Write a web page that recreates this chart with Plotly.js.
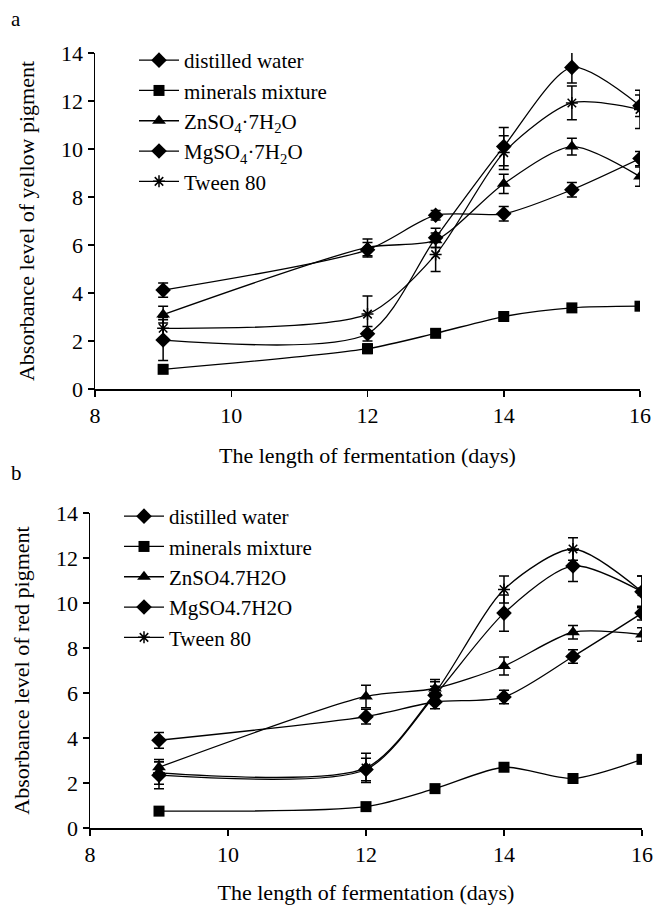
<!DOCTYPE html>
<html>
<head>
<meta charset="utf-8">
<script src="https://cdn.plot.ly/plotly-3.0.1.min.js"></script>
<style>
  html, body { margin: 0; padding: 0; background: #ffffff; }
  #chart { width: 653px; height: 905px; }
</style>
</head>
<body>
<div id="chart"></div>
<script>
// ---- data ----
const days = [9, 12, 13, 14, 15, 16];
const seriesNamesA = ["distilled water", "minerals mixture", "ZnSO<sub>4</sub>·7H<sub>2</sub>O", "MgSO<sub>4</sub>·7H<sub>2</sub>O", "Tween 80"];
const seriesNamesB = ["distilled water", "minerals mixture", "ZnSO4.7H2O", "MgSO4.7H2O", "Tween 80"];

// panel a: yellow pigment
const yellowDistilled = [2.04, 2.3, 6.3, 10.1, 13.4, 11.8];
const yellowDistilledErr = [0.85, 0.3, 0.4, 0.8, 0.65, 0.45];
const yellowMinerals = [0.82, 1.68, 2.32, 3.02, 3.38, 3.45];
const yellowMineralsErr = [0.15, 0.2, 0.15, 0.12, 0.12, 0.15];
const yellowZn = [3.1, 5.9, 6.2, 8.55, 10.1, 8.85];
const yellowZnErr = [0.35, 0.35, 0.3, 0.4, 0.35, 0.4];
const yellowMg = [4.12, 5.8, 7.24, 7.3, 8.3, 9.6];
const yellowMgErr = [0.3, 0.3, 0.2, 0.3, 0.3, 0.3];
const yellowTween = [2.53, 3.12, 5.6, 9.85, 11.92, 11.65];
const yellowTweenErr = [0.45, 0.75, 0.7, 0.7, 0.7, 0.8];

// panel b: red pigment
const redDistilled = [2.35, 2.6, 5.9, 9.55, 11.65, 10.5];
const redDistilledErr = [0.6, 0.5, 0.4, 0.8, 0.7, 0.7];
const redMinerals = [0.75, 0.95, 1.75, 2.7, 2.2, 3.05];
const redMineralsErr = [0.12, 0.12, 0.12, 0.12, 0.12, 0.12];
const redZn = [2.7, 5.85, 6.2, 7.2, 8.7, 8.6];
const redZnErr = [0.35, 0.5, 0.4, 0.4, 0.3, 0.3];
const redMg = [3.9, 4.95, 5.6, 5.82, 7.62, 9.55];
const redMgErr = [0.35, 0.33, 0.3, 0.3, 0.3, 0.3];
const redTween = [2.45, 2.67, 6.0, 10.6, 12.4, 10.5];
const redTweenErr = [0.5, 0.65, 0.5, 0.6, 0.5, 0.7];

const xTicks = [8, 10, 12, 14, 16];
const yTicks = [0, 2, 4, 6, 8, 10, 12, 14];

// ---- styling ----
const FONT = "Liberation Serif";
const symbols = ["diamond", "square", "triangle-up", "diamond", "asterisk-open"];
const sizes = [12, 11, 12, 12, 10];

function makeTrace(y, err, i, names, xa, ya, legendId) {
  return {
    type: "scatter",
    mode: "lines+markers",
    x: days,
    y: y,
    name: names[i],
    xaxis: xa,
    yaxis: ya,
    legend: legendId,
    line: { color: "#000", width: 1.3, shape: "spline", smoothing: 0.75 },
    marker: {
      symbol: symbols[i],
      size: sizes[i],
      color: "#000",
      line: { color: "#000", width: symbols[i] === "asterisk-open" ? 1.5 : 0 }
    },
    error_y: { type: "data", array: err, visible: true, color: "#000", thickness: 1.5, width: 5 }
  };
}

const yellowSets = [
  [yellowDistilled, yellowDistilledErr],
  [yellowMinerals, yellowMineralsErr],
  [yellowZn, yellowZnErr],
  [yellowMg, yellowMgErr],
  [yellowTween, yellowTweenErr]
];
const redSets = [
  [redDistilled, redDistilledErr],
  [redMinerals, redMineralsErr],
  [redZn, redZnErr],
  [redMg, redMgErr],
  [redTween, redTweenErr]
];

const traces = [];
yellowSets.forEach((s, i) => traces.push(makeTrace(s[0], s[1], i, seriesNamesA, "x", "y", "legend")));
redSets.forEach((s, i) => traces.push(makeTrace(s[0], s[1], i, seriesNamesB, "x2", "y2", "legend2")));

const W = 653, H = 905;
function px(v) { return v / W; }
function py(v) { return 1 - v / H; }

function xAxis(domain, anchor) {
  return {
    domain: domain, anchor: anchor, range: [8, 16],
    tickvals: xTicks, ticktext: xTicks.map(String),
    ticks: "outside", ticklen: 6, tickwidth: 1.5, tickcolor: "#000",
    showline: true, linecolor: "#000", linewidth: 1.5,
    showgrid: false, zeroline: false,
    tickfont: { family: FONT, size: 22, color: "#000" },
    title: { text: "The length of fermentation (days)", font: { family: FONT, size: 22, color: "#000" }, standoff: 20 }
  };
}
function yAxis(domain, anchor, title) {
  return {
    domain: domain, anchor: anchor, range: [0, 14],
    tickvals: yTicks, ticktext: yTicks.map(String),
    ticks: "outside", ticklen: 6, tickwidth: 1.5, tickcolor: "#000",
    showline: true, linecolor: "#000", linewidth: 1.5,
    showgrid: false, zeroline: false,
    tickfont: { family: FONT, size: 22, color: "#000" },
    title: { text: title, font: { family: FONT, size: 22, color: "#000" }, standoff: 20 }
  };
}

const layout = {
  width: W, height: H,
  margin: { l: 0, r: 0, t: 0, b: 0 },
  paper_bgcolor: "#fff", plot_bgcolor: "#fff",
  showlegend: true,
  font: { family: FONT, color: "#000" },
  xaxis: xAxis([px(95), px(640)], "y"),
  yaxis: yAxis([py(389), py(53)], "x", "Absorbance level of yellow pigment"),
  xaxis2: xAxis([px(90), px(642)], "y2"),
  yaxis2: yAxis([py(828), py(513)], "x2", "Absorbance level of red pigment"),
  legend: {
    x: px(134), y: py(40), xanchor: "left", yanchor: "top",
    bgcolor: "rgba(0,0,0,0)", font: { family: FONT, size: 21, color: "#000" },
    tracegroupgap: 0, itemwidth: 40
  },
  legend2: {
    x: px(119), y: py(496), xanchor: "left", yanchor: "top",
    bgcolor: "rgba(0,0,0,0)", font: { family: FONT, size: 21, color: "#000" },
    tracegroupgap: 0, itemwidth: 40
  },
  annotations: [
    { text: "a", x: px(9), y: py(19), xref: "paper", yref: "paper", xanchor: "left", yanchor: "middle", showarrow: false, font: { family: FONT, size: 21, color: "#000" } },
    { text: "b", x: px(9), y: py(473), xref: "paper", yref: "paper", xanchor: "left", yanchor: "middle", showarrow: false, font: { family: FONT, size: 21, color: "#000" } }
  ]
};

Plotly.newPlot("chart", traces, layout, { displayModeBar: false, staticPlot: true });
</script>
</body>
</html>
